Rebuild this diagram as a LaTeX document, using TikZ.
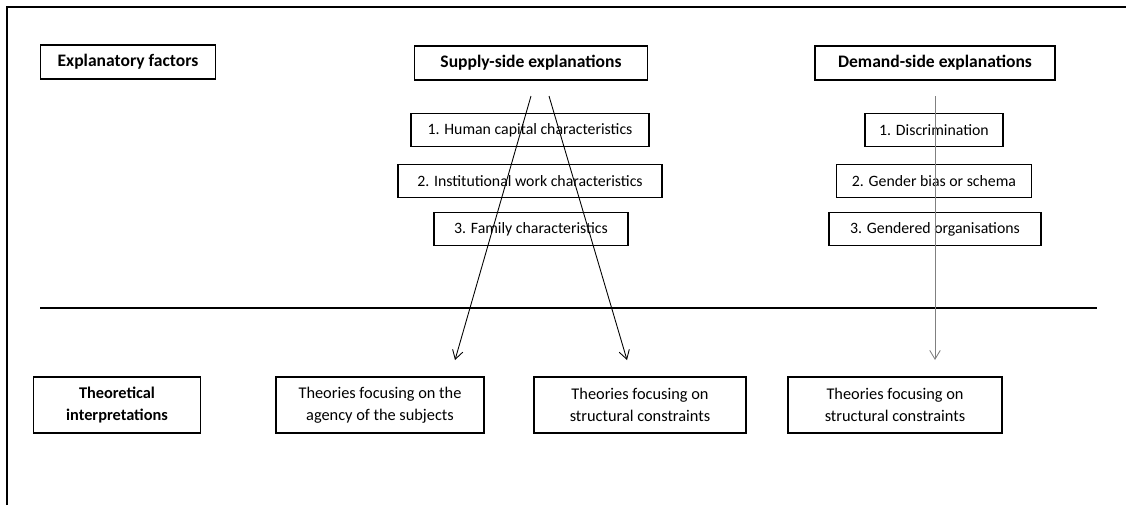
\documentclass[tikz,border=0pt]{standalone}
\usepackage{fontspec}
\setmainfont{Carlito}
\usepackage{tikz}
\usetikzlibrary{positioning,arrows.meta,calc}

\begin{document}
\begin{tikzpicture}[
    x=0.02cm, y=-0.02cm,
    box/.style={draw, line width=0.8pt, inner sep=1pt, align=center},
    head/.style={box, minimum height=0.68cm, font=\fontsize{10}{12}\selectfont\bfseries},
    item/.style={box, minimum height=0.66cm, font=\fontsize{9}{11}\selectfont},
    theory/.style={box, minimum height=1.12cm, font=\fontsize{9.3}{12.5}\selectfont},
    arr/.style={-{Straight Barb[length=5pt,width=6pt]}, line width=0.5pt},
  ]
  \useasboundingbox (0,0) rectangle (1126,505);
  % frame
  \draw[line width=1pt] (7,505) -- (7,7) -- (1126,7);
  % headings
  \node[head, minimum width=3.5cm]  (expl)   at (128,62) {Explanatory factors};
  \node[head, minimum width=4.66cm] (supply) at (531,63) {Supply-side explanations};
  \node[head, minimum width=4.8cm]  (demand) at (935,63) {Demand-side explanations};
  % supply-side items
  \node[item, minimum width=4.76cm] (human)  at (530,130) {1. Human capital characteristics};
  \node[item, minimum width=5.28cm] (inst)   at (530,181) {2. Institutional work characteristics};
  \node[item, minimum width=3.88cm] (family) at (531,229) {3. Family characteristics};
  % demand-side items
  \node[item, minimum width=2.76cm] (discr)  at (934,130) {1. Discrimination};
  \node[item, minimum width=3.9cm]  (bias)   at (934,181) {2. Gender bias or schema};
  \node[item, minimum width=4.24cm] (orgs)   at (935,229) {3. Gendered organisations};
  % divider
  \draw[line width=0.9pt] (40,308) -- (1097,308);
  % theoretical interpretations
  \node[theory, minimum width=3.34cm, font=\fontsize{9.3}{12.5}\selectfont\bfseries] (theo) at (117,405) {Theoretical\\interpretations};
  \node[theory, minimum width=4.16cm] (agency) at (380,405) {Theories focusing on the\\agency of the subjects};
  \node[theory, minimum width=4.24cm] (struct) at (640,405) {Theories focusing on\\structural constraints};
  \node[theory, minimum width=4.28cm] (structd) at (895,405) {Theories focusing on\\structural constraints};
  % arrows
  \coordinate (supL) at (531,96);
  \coordinate (supR) at (549,96);
  \coordinate (demS) at (935,96);
  \coordinate (agT)  at (455,360);
  \coordinate (stT)  at (627,360);
  \coordinate (sdT)  at (935,360);
  \draw[arr] (supL) -- (agT);
  \draw[arr] (supR) -- (stT);
  \draw[arr, gray] (demS) -- (sdT);
\end{tikzpicture}
\end{document}
